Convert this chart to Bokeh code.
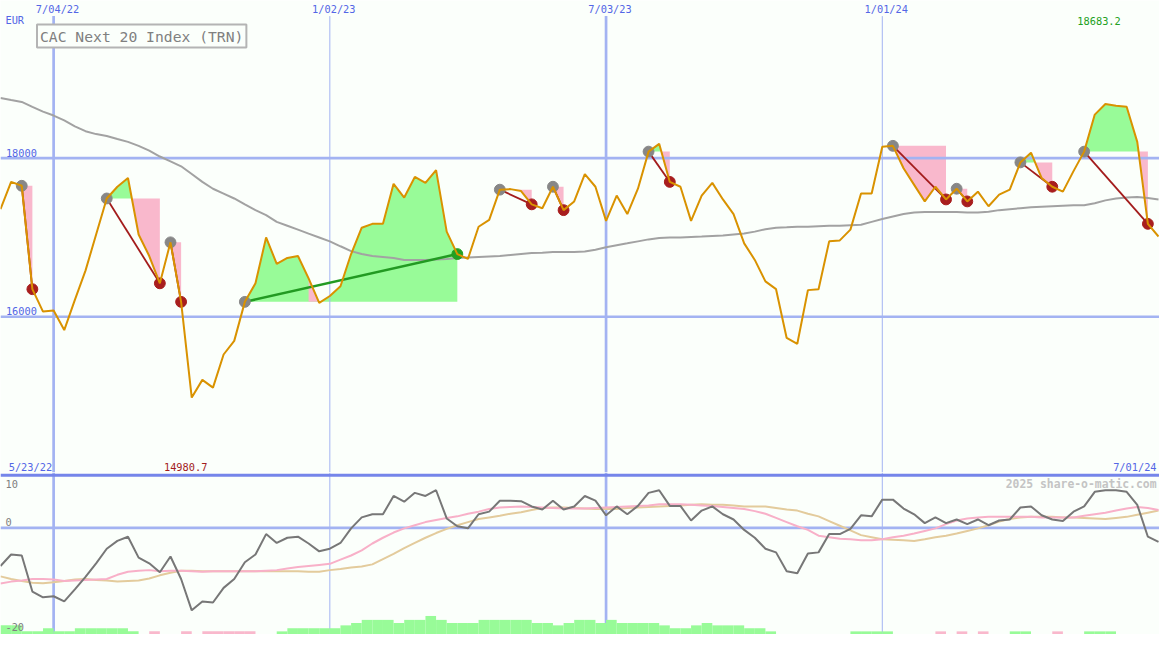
import pandas as pd
from bokeh.plotting import figure
from bokeh.layouts import column
from bokeh.models import Range1d, Label, ColumnDataSource
from bokeh.embed import file_html
from bokeh.resources import INLINE

# ---------------- data ----------------
start_date = "2022-05-30"          # weekly points (Mondays)

price = [17357, 17701, 17652, 16348, 16065, 16078, 15832, 16213, 16582, 17037,
         17492, 17640, 17750, 17037, 16766, 16422, 16939, 16188, 14980.7, 15204,
         15106, 15524, 15696, 16188, 16422, 17000, 16668, 16742, 16766, 16484,
         16176, 16262, 16385, 16791, 17123, 17172, 17172, 17677, 17504, 17763,
         17689, 17849, 17074, 16791, 16730, 17135, 17222, 17603, 17610, 17585,
         17418, 17369, 17640, 17345, 17455, 17800, 17640, 17209, 17529, 17295,
         17615, 18083, 18181, 17701, 17640, 17209, 17529, 17689, 17480, 17295,
         16926, 16717, 16447, 16348, 15733, 15659, 16336, 16348, 16951, 16963,
         17099, 17554, 17554, 18144, 18156, 17873, 17664, 17455, 17640, 17480,
         17615, 17455, 17578, 17394, 17541, 17603, 17947, 18070, 17750, 17640,
         17578, 17837, 18083, 18550, 18683.2, 18661, 18648, 18206, 17172, 17012]

moving_avg = [18759, 18734, 18710, 18648, 18587, 18538, 18476, 18402, 18341, 18304,
              18279, 18242, 18206, 18156, 18095, 18021, 17960, 17898, 17800, 17701,
              17615, 17554, 17492, 17418, 17345, 17283, 17197, 17148, 17099, 17049,
              17000, 16951, 16889, 16828, 16791, 16766, 16754, 16742, 16717, 16717,
              16717, 16723, 16730, 16742, 16748, 16754, 16760, 16766, 16779, 16791,
              16803, 16809, 16816, 16816, 16816, 16822, 16846, 16877, 16902, 16926,
              16951, 16976, 16994, 17000, 17000, 17006, 17012, 17019, 17025, 17037,
              17049, 17074, 17105, 17123, 17129, 17136, 17136, 17142, 17148, 17148,
              17154, 17160, 17197, 17234, 17265, 17295, 17314, 17320, 17320, 17320,
              17320, 17314, 17314, 17326, 17345, 17357, 17369, 17381, 17388, 17394,
              17400, 17406, 17406, 17431, 17468, 17492, 17505, 17511, 17498, 17480]

osc = [-7.3, -5.1, -5.3, -12.2, -13.3, -13.1, -14.1, -11.8, -9.4, -6.8,
       -4.0, -2.5, -1.7, -5.7, -6.8, -8.5, -5.5, -9.8, -15.8, -14.1,
       -14.3, -11.5, -9.8, -6.6, -5.1, -1.2, -2.9, -1.9, -1.7, -3.0,
       -4.5, -4.0, -2.9, -0.1, 2.0, 2.6, 2.6, 6.1, 5.0, 6.7,
       6.1, 7.2, 1.8, 0.3, -0.1, 2.6, 3.1, 5.2, 5.2, 5.1,
       4.1, 3.5, 5.2, 3.5, 4.1, 6.1, 5.2, 2.4, 4.1, 2.6,
       4.2, 6.7, 7.2, 4.2, 4.2, 1.4, 3.3, 4.1, 2.6, 1.6,
       -0.4, -1.9, -4.0, -4.7, -8.3, -8.7, -4.9, -4.7, -1.2, -1.2,
       -0.2, 2.4, 2.2, 5.4, 5.4, 3.7, 2.6, 0.9, 2.0, 0.9,
       1.6, 0.7, 1.6, 0.5, 1.4, 1.6, 3.9, 4.1, 2.4, 1.6,
       1.3, 3.1, 4.1, 6.9, 7.2, 7.2, 6.9, 4.4, -1.7, -2.7]

osc_fast = [-10.65, -10.3, -10.1, -9.8, -9.8, -9.9, -10.2, -10.1, -10.0, -9.9,
            -9.8, -9.0, -8.4, -8.2, -8.1, -8.3, -8.2, -8.2, -8.3, -8.4,
            -8.3, -8.3, -8.3, -8.3, -8.3, -8.2, -8.1, -7.8, -7.5, -7.3,
            -7.1, -6.9, -6.1, -5.3, -4.3, -3.0, -1.9, -0.9, -0.1, 0.5,
            1.1, 1.5, 1.9, 2.2, 2.7, 3.1, 3.6, 3.9, 4.0, 4.1,
            4.0, 3.9, 3.8, 3.7, 3.7, 3.7, 3.8, 3.9, 4.0, 4.1,
            4.2, 4.3, 4.5, 4.5, 4.5, 4.4, 4.3, 4.2, 4.0, 3.8,
            3.6, 3.2, 2.7, 1.9, 1.1, 0.3, -0.4, -1.5, -1.8, -2.1,
            -2.2, -2.4, -2.4, -2.2, -1.8, -1.5, -1.1, -0.6, -0.1, 0.7,
            1.4, 1.8, 2.0, 2.1, 2.1, 2.1, 2.1, 2.1, 2.0, 2.0,
            2.0, 2.0, 2.3, 2.6, 2.9, 3.3, 3.7, 4.0, 3.8, 3.4]

osc_slow = [-9.3, -9.8, -10.2, -10.5, -10.6, -10.4, -10.2, -9.9, -9.8, -10.0,
            -10.1, -10.3, -10.2, -10.1, -9.7, -9.1, -8.6, -8.2, -8.2, -8.3,
            -8.3, -8.3, -8.3, -8.3, -8.3, -8.3, -8.3, -8.3, -8.3, -8.4,
            -8.4, -8.1, -7.9, -7.6, -7.4, -7.0, -6.0, -5.0, -3.9, -2.9,
            -1.9, -1.0, -0.2, 0.5, 1.1, 1.7, 2.0, 2.3, 2.7, 3.0,
            3.4, 3.8, 3.9, 3.9, 3.8, 3.7, 3.6, 3.6, 3.6, 3.8,
            3.9, 4.0, 4.1, 4.2, 4.3, 4.4, 4.5, 4.4, 4.4, 4.3,
            4.1, 4.1, 4.1, 3.8, 3.5, 3.3, 2.7, 2.2, 1.3, 0.4,
            -0.5, -1.4, -1.8, -2.2, -2.3, -2.4, -2.5, -2.2, -1.8, -1.5,
            -1.1, -0.6, -0.1, 0.5, 1.2, 1.7, 2.0, 2.1, 2.1, 2.1,
            2.0, 2.0, 1.9, 1.8, 1.7, 1.9, 2.1, 2.5, 2.9, 3.3]

# weekly histogram (positive = green, negative = pink)
hist = [1.75, 1.75, 0.6, 0.6, 1.2, 0.6, 0.6, 1.2, 1.2, 1.2,
        1.2, 1.2, 0.6, 0, -0.6, 0, 0, -0.6, 0, -0.6,
        -0.6, -0.6, -0.6, -0.6, 0, 0, 0.6, 1.2, 1.2, 1.2,
        1.2, 1.2, 1.75, 2.2, 2.8, 2.8, 2.8, 2.2, 2.8, 2.8,
        3.55, 2.8, 2.2, 2.2, 2.2, 2.8, 2.8, 2.8, 2.8, 2.8,
        2.2, 2.2, 1.75, 2.2, 2.8, 2.8, 2.2, 2.8, 2.2, 2.2,
        2.2, 2.2, 1.75, 1.2, 1.2, 1.75, 2.2, 1.75, 1.75, 1.75,
        1.2, 1.2, 0.6, 0, 0, 0, 0, 0, 0, 0,
        0.6, 0.6, 0.6, 0.6, 0, 0, 0, 0, -0.6, 0,
        -0.6, 0, -0.6, 0, 0, 0.6, 0.6, 0, 0, -0.6,
        0, 0, 0.6, 0.6, 0.6, 0, 0, 0, 0, 0]

trade_entry = [2, 10, 16, 23, 47, 52, 61, 84, 90, 96, 102]
trade_exit = [3, 15, 17, 43, 50, 53, 63, 89, 91, 99, 108]
extra_pink_weeks = [29]

price_grid = [16000, 18000]
price_grid_labels = ["16000", "18000"]
osc_grid_labels = ["10", "0", "-20"]
tick_dates = ["2022-07-04", "2023-01-02", "2023-07-03", "2024-01-01"]
tick_labels = ["7/04/22", "1/02/23", "7/03/23", "1/01/24"]
tick_major = [True, False, True, False]
title = "CAC Next 20 Index (TRN)"
currency = "EUR"
first_label, last_label = "5/23/22", "7/01/24"
min_label, max_label = "14980.7", "18683.2"
credit = "2025 share-o-matic.com"

# ---------------- layout helpers ----------------
def ms(d):
    return pd.Timestamp(d).value / 1e6

WEEK = 7 * 86400000
xs = [ms(pd.Timestamp(start_date) + pd.Timedelta(weeks=i)) for i in range(len(price))]

REF_W, REF_H, SPLIT = 1175, 650, 484
W, H = 1159, 634
SX, SY = W / REF_W, H / REF_H
H1 = round(SPLIT * SY)
H2 = H - H1
MS_PER_PX = WEEK / 10.7706
X0 = xs[0]

def xpx(px):
    return X0 + px * MS_PER_PX

def ypx(py):              # top panel: reference pixel row -> price
    return 19989.0 - 12.3 * py

def opx(py):              # lower panel: reference pixel row -> oscillator
    return (540.7 - py) / 5.35

def fs(px):
    return f"{px * SX:.1f}px"

BG = "#fbfffb"
GRID = "#a3b3f2"
BORDER = "#7585ea"
TXT_BLUE = "#5366e6"
GREEN_FILL = "#98fb98"
PINK_FILL = "#f9b8cc"
MONO = "DejaVu Sans Mono"
TICK_FS = 10.4

x_range = Range1d(xpx(0), xpx(REF_W))

def make_fig(h, y_range):
    f = figure(width=W, height=h, x_range=x_range, y_range=y_range,
               output_backend="svg", toolbar_location=None, min_border=0,
               x_axis_location=None, y_axis_location=None,
               background_fill_color=BG, border_fill_color=BG,
               outline_line_color=None)
    f.grid.visible = False
    return f

# ---------------- top panel ----------------
p1 = make_fig(H1, Range1d(ypx(SPLIT), ypx(0)))

def split_at_level(xv, yv, level):
    ox, oy = [xv[0]], [yv[0]]
    for k in range(1, len(xv)):
        y0, y1 = yv[k - 1], yv[k]
        if (y0 - level) * (y1 - level) < 0:
            t = (level - y0) / (y1 - y0)
            ox.append(xv[k - 1] + t * (xv[k] - xv[k - 1]))
            oy.append(level)
        ox.append(xv[k])
        oy.append(y1)
    return ox, oy

for e, x_ in zip(trade_entry, trade_exit):
    level = price[e]
    ox, oy = split_at_level(xs[e:x_ + 1], price[e:x_ + 1], level)
    lv = [level] * len(ox)
    p1.varea(x=ox, y1=lv, y2=[max(v, level) for v in oy], fill_color=GREEN_FILL)
    p1.varea(x=ox, y1=lv, y2=[min(v, level) for v in oy], fill_color=PINK_FILL)

for k in extra_pink_weeks:
    for e, x_ in zip(trade_entry, trade_exit):
        if e <= k < x_:
            level = price[e]
            ox, oy = split_at_level(xs[k:k + 2], price[k:k + 2], level)
            p1.varea(x=ox, y1=[level] * len(ox), y2=[max(v, level) for v in oy],
                     fill_color=PINK_FILL)

# grid lines
p1.segment(x0=[xpx(0)] * 2, x1=[xpx(REF_W)] * 2, y0=price_grid, y1=price_grid,
           line_color=GRID, line_width=2.7)
tick_x = [ms(d) for d in tick_dates]
vsrc = ColumnDataSource(dict(x=tick_x, w=[2.7 if m else 1 for m in tick_major]))
p1.segment(x0="x", x1="x", y0=ypx(SPLIT), y1=ypx(16), line_width="w",
           line_color=GRID, source=vsrc)

# moving average
p1.line(xs, moving_avg, line_color="#a2a2a2", line_width=2)

# trade connectors and markers
win = [price[x_] >= price[e] for e, x_ in zip(trade_entry, trade_exit)]
p1.segment(x0=[xs[e] for e in trade_entry], y0=[price[e] for e in trade_entry],
           x1=[xs[x_] for x_ in trade_exit], y1=[price[x_] for x_ in trade_exit],
           line_color=["#229a22" if w else "#a31c1c" for w in win],
           line_width=[2.5 if w else 1.8 for w in win])
p1.scatter([xs[e] for e in trade_entry], [price[e] for e in trade_entry],
           size=11 * SX, color="#878787")
p1.scatter([xs[x_] for x_ in trade_exit], [price[x_] for x_ in trade_exit],
           size=11 * SX, color=["#22a022" if w else "#a81e1e" for w in win])

# price line
p1.line(xs, price, line_color="#d99200", line_width=2)

def add_label(fig, x, y, text, color, size, align="left", style="normal", **kw):
    fig.add_layout(Label(x=x, y=y, text=text, text_color=color, text_font=MONO,
                         text_font_size=size, text_align=align,
                         text_baseline="middle", text_font_style=style, **kw))

for tx, tl in zip(tick_x, tick_labels):
    add_label(p1, tx + 4 * MS_PER_PX, ypx(8.7), tl, TXT_BLUE, fs(TICK_FS), align="center")
add_label(p1, xpx(5), ypx(20.5), currency, TXT_BLUE, fs(TICK_FS))
for gv, gl in zip(price_grid, price_grid_labels):
    add_label(p1, xpx(5.5), gv + 12.3 * 5.5, gl, TXT_BLUE, fs(TICK_FS))
add_label(p1, xpx(8.3), ypx(478.7), first_label, TXT_BLUE, fs(TICK_FS))
add_label(p1, xpx(1172), ypx(478.7), last_label, TXT_BLUE, fs(TICK_FS), align="right")
add_label(p1, xpx(165.7), ypx(478.7), min_label, "#a31c1c", fs(TICK_FS))
add_label(p1, xpx(1091.7), ypx(21.2), max_label, "#22a022", fs(TICK_FS))
add_label(p1, xpx(37), ypx(36.5), title, "#808080", fs(14.9),
          border_line_color="#b4b4b4", border_line_width=2,
          background_fill_color=BG, padding=3)

# ---------------- lower panel ----------------
p2 = make_fig(H2, Range1d(opx(REF_H), opx(SPLIT)))
p2.segment(x0="x", x1="x", y0=opx(REF_H), y1=opx(SPLIT), line_width="w",
           line_color=GRID, source=vsrc)
p2.segment(x0=[xpx(0)], x1=[xpx(REF_W)], y0=[0], y1=[0], line_color=GRID, line_width=2.7)
p2.segment(x0=[xpx(0)], x1=[xpx(REF_W)], y0=[opx(486.7)], y1=[opx(486.7)],
           line_color=BORDER, line_width=3)

base = opx(REF_H)
hsrc = ColumnDataSource(dict(
    left=xs, right=[x + WEEK for x in xs],
    bottom=[base - 1] * len(hist), top=[base + abs(h) for h in hist],
    color=[GREEN_FILL if h > 0 else PINK_FILL for h in hist],
    alpha=[1 if h != 0 else 0 for h in hist]))
p2.quad(left="left", right="right", bottom="bottom", top="top", fill_color="color",
        fill_alpha="alpha", line_color=None, source=hsrc)

p2.line(xs, osc_slow, line_color="#e3cb9c", line_width=2)
p2.line(xs, osc_fast, line_color="#f8b0c8", line_width=2)
p2.line(xs, osc, line_color="#777777", line_width=2)

for txt, cy in zip(osc_grid_labels, [496, 534.7, 642.5]):
    add_label(p2, xpx(5), opx(cy), txt, "#808080", fs(TICK_FS))
add_label(p2, xpx(1172), opx(495.8), credit, "#c4c4c4", fs(11.6), align="right",
          style="bold")

layout = column(p1, p2, spacing=0)
open("out.html", "w").write(file_html(layout, INLINE))
